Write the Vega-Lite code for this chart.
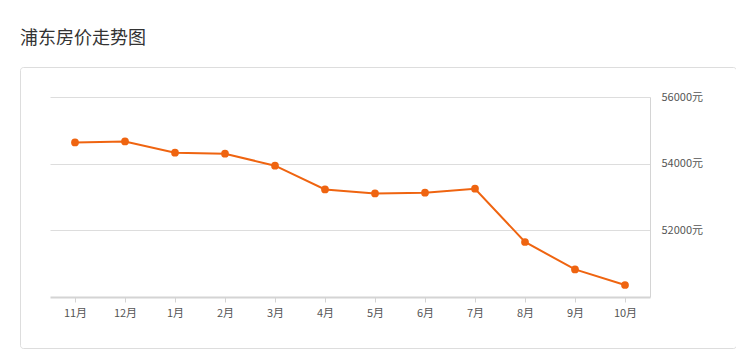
{
  "$schema": "https://vega.github.io/schema/vega-lite/v6.json",
  "width": 716,
  "height": 281,
  "autosize": {"type": "none"},
  "padding": {"left": 20, "top": 67, "right": 0, "bottom": 3},
  "background": "white",
  "title": {
    "text": "浦东房价走势图",
    "anchor": "start",
    "frame": "group",
    "font": "Noto Sans CJK SC",
    "fontSize": 18,
    "fontWeight": "normal",
    "color": "#333333",
    "baseline": "alphabetic",
    "offset": 5
  },
  "config": {
    "view": {"stroke": "#dddddd", "cornerRadius": 3},
    "font": "Noto Sans CJK SC"
  },
  "data": {
    "values": [
      {"month": "11月", "price": 54638},
      {"month": "12月", "price": 54668},
      {"month": "1月", "price": 54329},
      {"month": "2月", "price": 54299},
      {"month": "3月", "price": 53939},
      {"month": "4月", "price": 53228},
      {"month": "5月", "price": 53108},
      {"month": "6月", "price": 53129},
      {"month": "7月", "price": 53249},
      {"month": "8月", "price": 51650},
      {"month": "9月", "price": 50828},
      {"month": "10月", "price": 50360}
    ]
  },
  "encoding": {
    "x": {
      "field": "month",
      "type": "ordinal",
      "sort": null,
      "scale": {"type": "point", "range": [30, 630], "padding": 0.5},
      "axis": {
        "title": null,
        "orient": "bottom",
        "offset": -51,
        "labelAngle": 0,
        "labelFont": "Noto Sans CJK SC",
        "labelFontSize": 11,
        "labelColor": "#555555",
        "labelPadding": 5,
        "domainColor": "#d4d4d4",
        "domainWidth": 2,
        "tickColor": "#d4d4d4",
        "tickSize": 5,
        "tickWidth": 1,
        "grid": false
      }
    }
  },
  "layer": [
    {
      "mark": {"type": "line", "color": "#ef6410", "strokeWidth": 2},
      "encoding": {
        "y": {
          "field": "price",
          "type": "quantitative",
          "scale": {"domain": [50000, 56000], "range": [230, 30], "nice": false, "zero": false},
          "axis": {
            "title": null,
            "orient": "right",
            "offset": -86,
            "values": [52000, 54000, 56000],
            "labelExpr": "datum.value + '元'",
            "labelFont": "Noto Sans CJK SC",
            "labelFontSize": 11,
            "labelColor": "#555555",
            "labelPadding": 11,
            "ticks": false,
            "domainColor": "#d4d4d4",
            "domainWidth": 1,
            "grid": false
          }
        }
      }
    },
    {
      "mark": {"type": "point", "filled": true, "color": "#ef6410", "opacity": 1, "size": 60},
      "encoding": {
        "y": {
          "field": "price",
          "type": "quantitative",
          "scale": {"domain": [50000, 56000], "range": [230, 30], "nice": false, "zero": false},
          "axis": {
            "title": null,
            "orient": "left",
            "offset": 0,
            "values": [52000, 54000, 56000],
            "labels": false,
            "ticks": false,
            "domain": false,
            "grid": true,
            "gridColor": "#dddddd",
            "gridWidth": 1
          }
        }
      }
    }
  ],
  "resolve": {"axis": {"y": "independent"}}
}
